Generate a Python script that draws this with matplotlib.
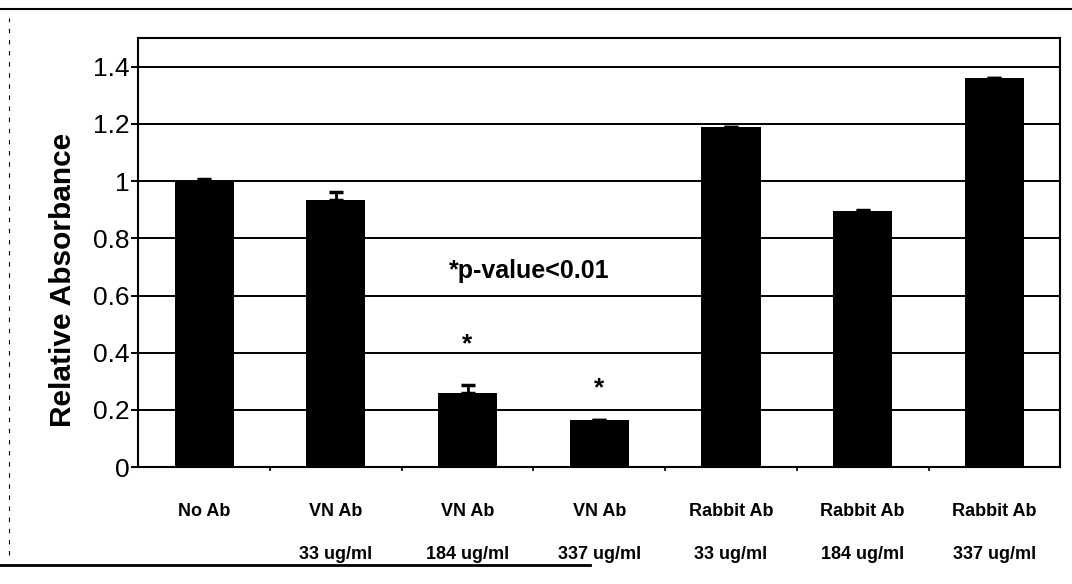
import matplotlib
matplotlib.use('Agg')
import matplotlib.pyplot as plt
import numpy as np

plt.rcParams['font.family'] = ['Liberation Sans', 'DejaVu Sans']

# data
labels = ['No Ab', 'VN Ab\n33 ug/ml', 'VN Ab\n184 ug/ml', 'VN Ab\n337 ug/ml',
          'Rabbit Ab\n33 ug/ml', 'Rabbit Ab\n184 ug/ml', 'Rabbit Ab\n337 ug/ml']
values = [1.0, 0.935, 0.258, 0.165, 1.19, 0.895, 1.36]
errors = [0.008, 0.025, 0.03, 0.0, 0.0, 0.005, 0.0]
star_idx = [2, 3]
star_y = [0.43, 0.275]

fig = plt.figure(figsize=(10.72, 5.84), dpi=100)
ax = fig.add_axes([0.129, 0.2, 0.86, 0.735])

x = np.arange(len(labels))
ax.bar(x, values, width=0.45, color='black', zorder=3)
ax.errorbar(x, values, yerr=[np.zeros(len(errors)), errors], fmt='none',
            ecolor='black', elinewidth=2, capsize=5, capthick=2.5, zorder=4)

for i, y in zip(star_idx, star_y):
    ax.text(x[i], y, '*', ha='center', va='center', fontsize=19,
            fontweight='bold')
ax.text(2.47, 0.686, '*p-value<0.01', ha='center', va='center',
        fontsize=18, fontweight='bold')

ax.set_xlim(-0.5, len(labels) - 0.5)
ax.set_ylim(0, 1.5)
ax.set_yticks([0, 0.2, 0.4, 0.6, 0.8, 1, 1.2, 1.4])
ax.set_yticklabels(['0', '0.2', '0.4', '0.6', '0.8', '1', '1.2', '1.4'])
ax.yaxis.grid(True, color='black', linewidth=1.4, zorder=0)
ax.set_axisbelow(True)

ax.set_xticks(x)
ax.set_xticklabels(labels, fontsize=13, fontweight='bold', linespacing=3.0)
ax.tick_params(axis='x', length=0, pad=26)
ax.set_xticks(np.arange(0.5, len(labels) - 1, 1), minor=True)
ax.tick_params(axis='x', which='minor', length=3, width=1.2)
ax.tick_params(axis='y', labelsize=19, length=5, width=1.4, pad=1)
for s in ax.spines.values():
    s.set_linewidth(1.5)
    s.set_color('black')

ax.set_ylabel('Relative Absorbance', fontsize=21.5, fontweight='bold')
ax.yaxis.set_label_coords(-0.066, 0.436)

# outer frame lines from the scanned page
fig.add_artist(plt.Line2D([0.0, 1.0], [0.985, 0.985], color='black', lw=1.5,
                          transform=fig.transFigure))
fig.add_artist(plt.Line2D([0.0, 0.55], [0.032, 0.032], color='black', lw=2,
                          transform=fig.transFigure))
fig.add_artist(plt.Line2D([0.008, 0.008], [0.05, 0.97], color='black', lw=0.8,
                          linestyle=(0, (4, 6)), transform=fig.transFigure))

plt.savefig('out.png', dpi=100)
